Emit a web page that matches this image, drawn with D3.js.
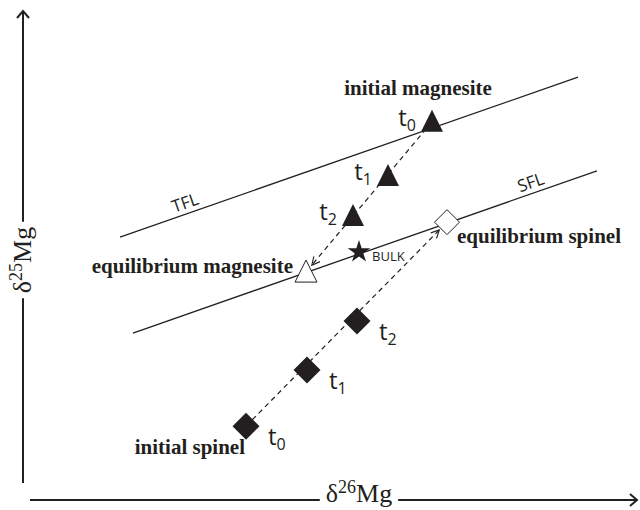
<!DOCTYPE html>
<html>
<head>
<meta charset="utf-8">
<script src="https://cdn.jsdelivr.net/npm/d3@7"></script>
<style>
    body { margin: 0; background: #fff; }
    svg { display: block; }
</style>
</head>
<body>
<svg id="chart" width="640" height="510"></svg>
<script>
// fractionation lines (d26Mg, d25Mg end points)
var lineNames = ['TFL', 'SFL'];
var lineX = [[1.92, 11.08], [2.18, 11.46]];
var lineY = [[5.27, 8.60], [3.27, 6.65]];

// time steps
var stepLabels = ['0', '1', '2'];
var magnesiteX = [8.16, 7.28, 6.58];
var magnesiteY = [7.67, 6.54, 5.71];
var spinelX = [4.44, 5.66, 6.66];
var spinelY = [1.33, 2.50, 3.52];

// equilibrium compositions and bulk
var eqNames = ['equilibrium magnesite', 'equilibrium spinel'];
var eqX = [5.64, 8.46];
var eqY = [4.54, 5.58];
var bulkX = 6.70;
var bulkY = 4.96;

var INK = '#231f20';
var SERIF = '"Liberation Serif", "Times New Roman", serif';
var SANS = '"Open Sans", "Noto Sans", sans-serif';

var svg = d3.select('#chart');

var x = d3.scaleLinear().domain([0, 12]).range([24, 624]);
var y = d3.scaleLinear().domain([0, 10]).range([490, 10]);

// arrow head for the dashed paths
svg.append('defs').append('marker')
    .attr('id', 'vhead')
    .attr('viewBox', '-1 -5 10 10')
    .attr('refX', 8)
    .attr('refY', 0)
    .attr('markerWidth', 10)
    .attr('markerHeight', 10)
    .attr('markerUnits', 'userSpaceOnUse')
    .attr('orient', 'auto')
    .append('path')
    .attr('d', 'M0,-4L8,0L0,4')
    .attr('fill', 'none')
    .attr('stroke', INK)
    .attr('stroke-width', 1.1);

//////////////////////   FRACTIONATION LINES    //////////////////////

lineNames.forEach(function (name, i) {
    svg.append('line')
        .attr('x1', x(lineX[i][0])).attr('y1', y(lineY[i][0]))
        .attr('x2', x(lineX[i][1])).attr('y2', y(lineY[i][1]))
        .attr('stroke', INK)
        .attr('stroke-width', 1.3);
});

var angle = function (i) {
    return Math.atan2(y(lineY[i][1]) - y(lineY[i][0]), x(lineX[i][1]) - x(lineX[i][0])) * 180 / Math.PI;
};
// label position along each line (fraction of its length)
var lineLabelAt = [0.15, 0.865];
lineNames.forEach(function (name, i) {
    var t = lineLabelAt[i];
    var px = x(lineX[i][0] + t * (lineX[i][1] - lineX[i][0]));
    var py = y(lineY[i][0] + t * (lineY[i][1] - lineY[i][0]));
    svg.append('text')
        .attr('transform', 'translate(' + px + ',' + py + ') rotate(' + angle(i) + ')')
        .attr('y', -5)
        .attr('text-anchor', 'middle')
        .style('font-family', SANS)
        .style('font-size', '17px')
        .attr('fill', INK)
        .text(name);
});

//////////////////////   DASHED PATHS    //////////////////////

function dashedArrow(x0, y0, x1, y1, shorten) {
    var px0 = x(x0), py0 = y(y0), px1 = x(x1), py1 = y(y1);
    var len = Math.sqrt((px1 - px0) * (px1 - px0) + (py1 - py0) * (py1 - py0));
    var k = (len - shorten) / len;
    svg.append('line')
        .attr('x1', px0).attr('y1', py0)
        .attr('x2', px0 + (px1 - px0) * k).attr('y2', py0 + (py1 - py0) * k)
        .attr('stroke', INK)
        .attr('stroke-width', 1.2)
        .attr('stroke-dasharray', '5,4')
        .attr('marker-end', 'url(#vhead)');
}
dashedArrow(magnesiteX[0], magnesiteY[0], eqX[0], eqY[0], 9);
dashedArrow(spinelX[0], spinelY[0], eqX[1], eqY[1], 11);

//////////////////////   MARKERS    //////////////////////

var triPath = 'M0,-12L11,10L-11,10Z';
var diaPath = function (r) {
    return 'M0,' + (-r) + 'L' + r + ',0L0,' + r + 'L' + (-r) + ',0Z';
};

svg.selectAll('path.magnesite')
    .data(stepLabels)
    .enter()
    .append('path')
    .attr('class', 'magnesite')
    .attr('transform', function (d, i) {
        return 'translate(' + x(magnesiteX[i]) + ',' + y(magnesiteY[i]) + ')';
    })
    .attr('d', triPath)
    .attr('fill', INK);

svg.selectAll('path.spinel')
    .data(stepLabels)
    .enter()
    .append('path')
    .attr('class', 'spinel')
    .attr('transform', function (d, i) {
        return 'translate(' + x(spinelX[i]) + ',' + y(spinelY[i]) + ')';
    })
    .attr('d', diaPath(13.5))
    .attr('fill', INK);

// open equilibrium markers
svg.append('path')
    .attr('transform', 'translate(' + x(eqX[0]) + ',' + y(eqY[0]) + ')')
    .attr('d', triPath)
    .attr('fill', '#fff')
    .attr('stroke', INK)
    .attr('stroke-width', 1);
svg.append('path')
    .attr('transform', 'translate(' + x(eqX[1]) + ',' + y(eqY[1]) + ')')
    .attr('d', diaPath(12.5))
    .attr('fill', '#fff')
    .attr('stroke', INK)
    .attr('stroke-width', 1);

svg.append('path')
    .attr('transform', 'translate(' + x(bulkX) + ',' + y(bulkY) + ')')
    .attr('d', d3.symbol(d3.symbolStar, 160)())
    .attr('fill', INK);
svg.append('text')
    .attr('x', x(bulkX) + 13)
    .attr('y', y(bulkY) + 9)
    .style('font-family', SANS)
    .style('font-size', '13px')
    .attr('fill', INK)
    .text('BULK');

//////////////////////   TIME LABELS    //////////////////////

function stepLabel(px, py, anchor, sub) {
    var t = svg.append('text')
        .attr('x', px)
        .attr('y', py)
        .attr('text-anchor', anchor)
        .style('font-family', SANS)
        .style('font-size', '24px')
        .attr('fill', INK);
    t.append('tspan').text('t');
    t.append('tspan')
        .attr('dy', 5)
        .style('font-size', '16px')
        .text(sub);
}

stepLabels.forEach(function (s, i) {
    stepLabel(x(magnesiteX[i]) - 16, y(magnesiteY[i]) + 4, 'end', s);
    stepLabel(x(spinelX[i]) + 22, y(spinelY[i]) + 19, 'start', s);
});

//////////////////////   NAME LABELS    //////////////////////

function nameLabel(px, py, anchor, txt) {
    svg.append('text')
        .attr('x', px)
        .attr('y', py)
        .attr('text-anchor', anchor)
        .style('font-family', SERIF)
        .style('font-size', '21px')
        .style('font-weight', 'bold')
        .attr('fill', INK)
        .text(txt);
}
nameLabel(x(magnesiteX[0]) - 14, y(magnesiteY[0]) - 27, 'middle', 'initial magnesite');
nameLabel(x(spinelX[0]) - 1, y(spinelY[0]) + 28, 'end', 'initial spinel');
nameLabel(x(eqX[0]) - 13, y(eqY[0]) + 1, 'end', eqNames[0]);
nameLabel(x(eqX[1]) + 10, y(eqY[1]) + 21, 'start', eqNames[1]);

//////////////////////   AXES    //////////////////////

var axisX0 = 30, axisX1 = 637, axisY = 500;
var axisV = 23, axisTop = 11, axisBottom = 483;

function axisLabel(sup, transform) {
    var t = svg.append('text')
        .attr('transform', transform)
        .attr('text-anchor', 'middle')
        .style('font-family', SERIF)
        .style('font-size', '26px')
        .attr('fill', INK);
    t.append('tspan').text('\u03B4');
    t.append('tspan').attr('dy', -9).style('font-size', '18px').text(sup);
    t.append('tspan').attr('dy', 9).text('Mg');
    return t.node().getBBox();
}

var bx = axisLabel('26', 'translate(359,502)');
svg.append('line')
    .attr('x1', axisX0).attr('y1', axisY)
    .attr('x2', 359 + bx.x - 6).attr('y2', axisY)
    .attr('stroke', INK).attr('stroke-width', 2);
svg.append('line')
    .attr('x1', 359 + bx.x + bx.width + 6).attr('y1', axisY)
    .attr('x2', axisX1).attr('y2', axisY)
    .attr('stroke', INK).attr('stroke-width', 2);
svg.append('path')
    .attr('d', 'M' + (axisX1 - 7) + ',' + (axisY - 6) + 'L' + axisX1 + ',' + axisY + 'L' + (axisX1 - 7) + ',' + (axisY + 6))
    .attr('fill', 'none').attr('stroke', INK).attr('stroke-width', 2);

var by = axisLabel('25', 'translate(' + (axisV + 8) + ',260) rotate(-90)');
svg.append('line')
    .attr('x1', axisV).attr('y1', axisTop)
    .attr('x2', axisV).attr('y2', 260 - (by.x + by.width) - 5)
    .attr('stroke', INK).attr('stroke-width', 2);
svg.append('line')
    .attr('x1', axisV).attr('y1', 260 - by.x + 5)
    .attr('x2', axisV).attr('y2', axisBottom)
    .attr('stroke', INK).attr('stroke-width', 2);
svg.append('path')
    .attr('d', 'M' + (axisV - 6) + ',' + (axisTop + 7) + 'L' + axisV + ',' + axisTop + 'L' + (axisV + 6) + ',' + (axisTop + 7))
    .attr('fill', 'none').attr('stroke', INK).attr('stroke-width', 2);
</script>
</body>
</html>
